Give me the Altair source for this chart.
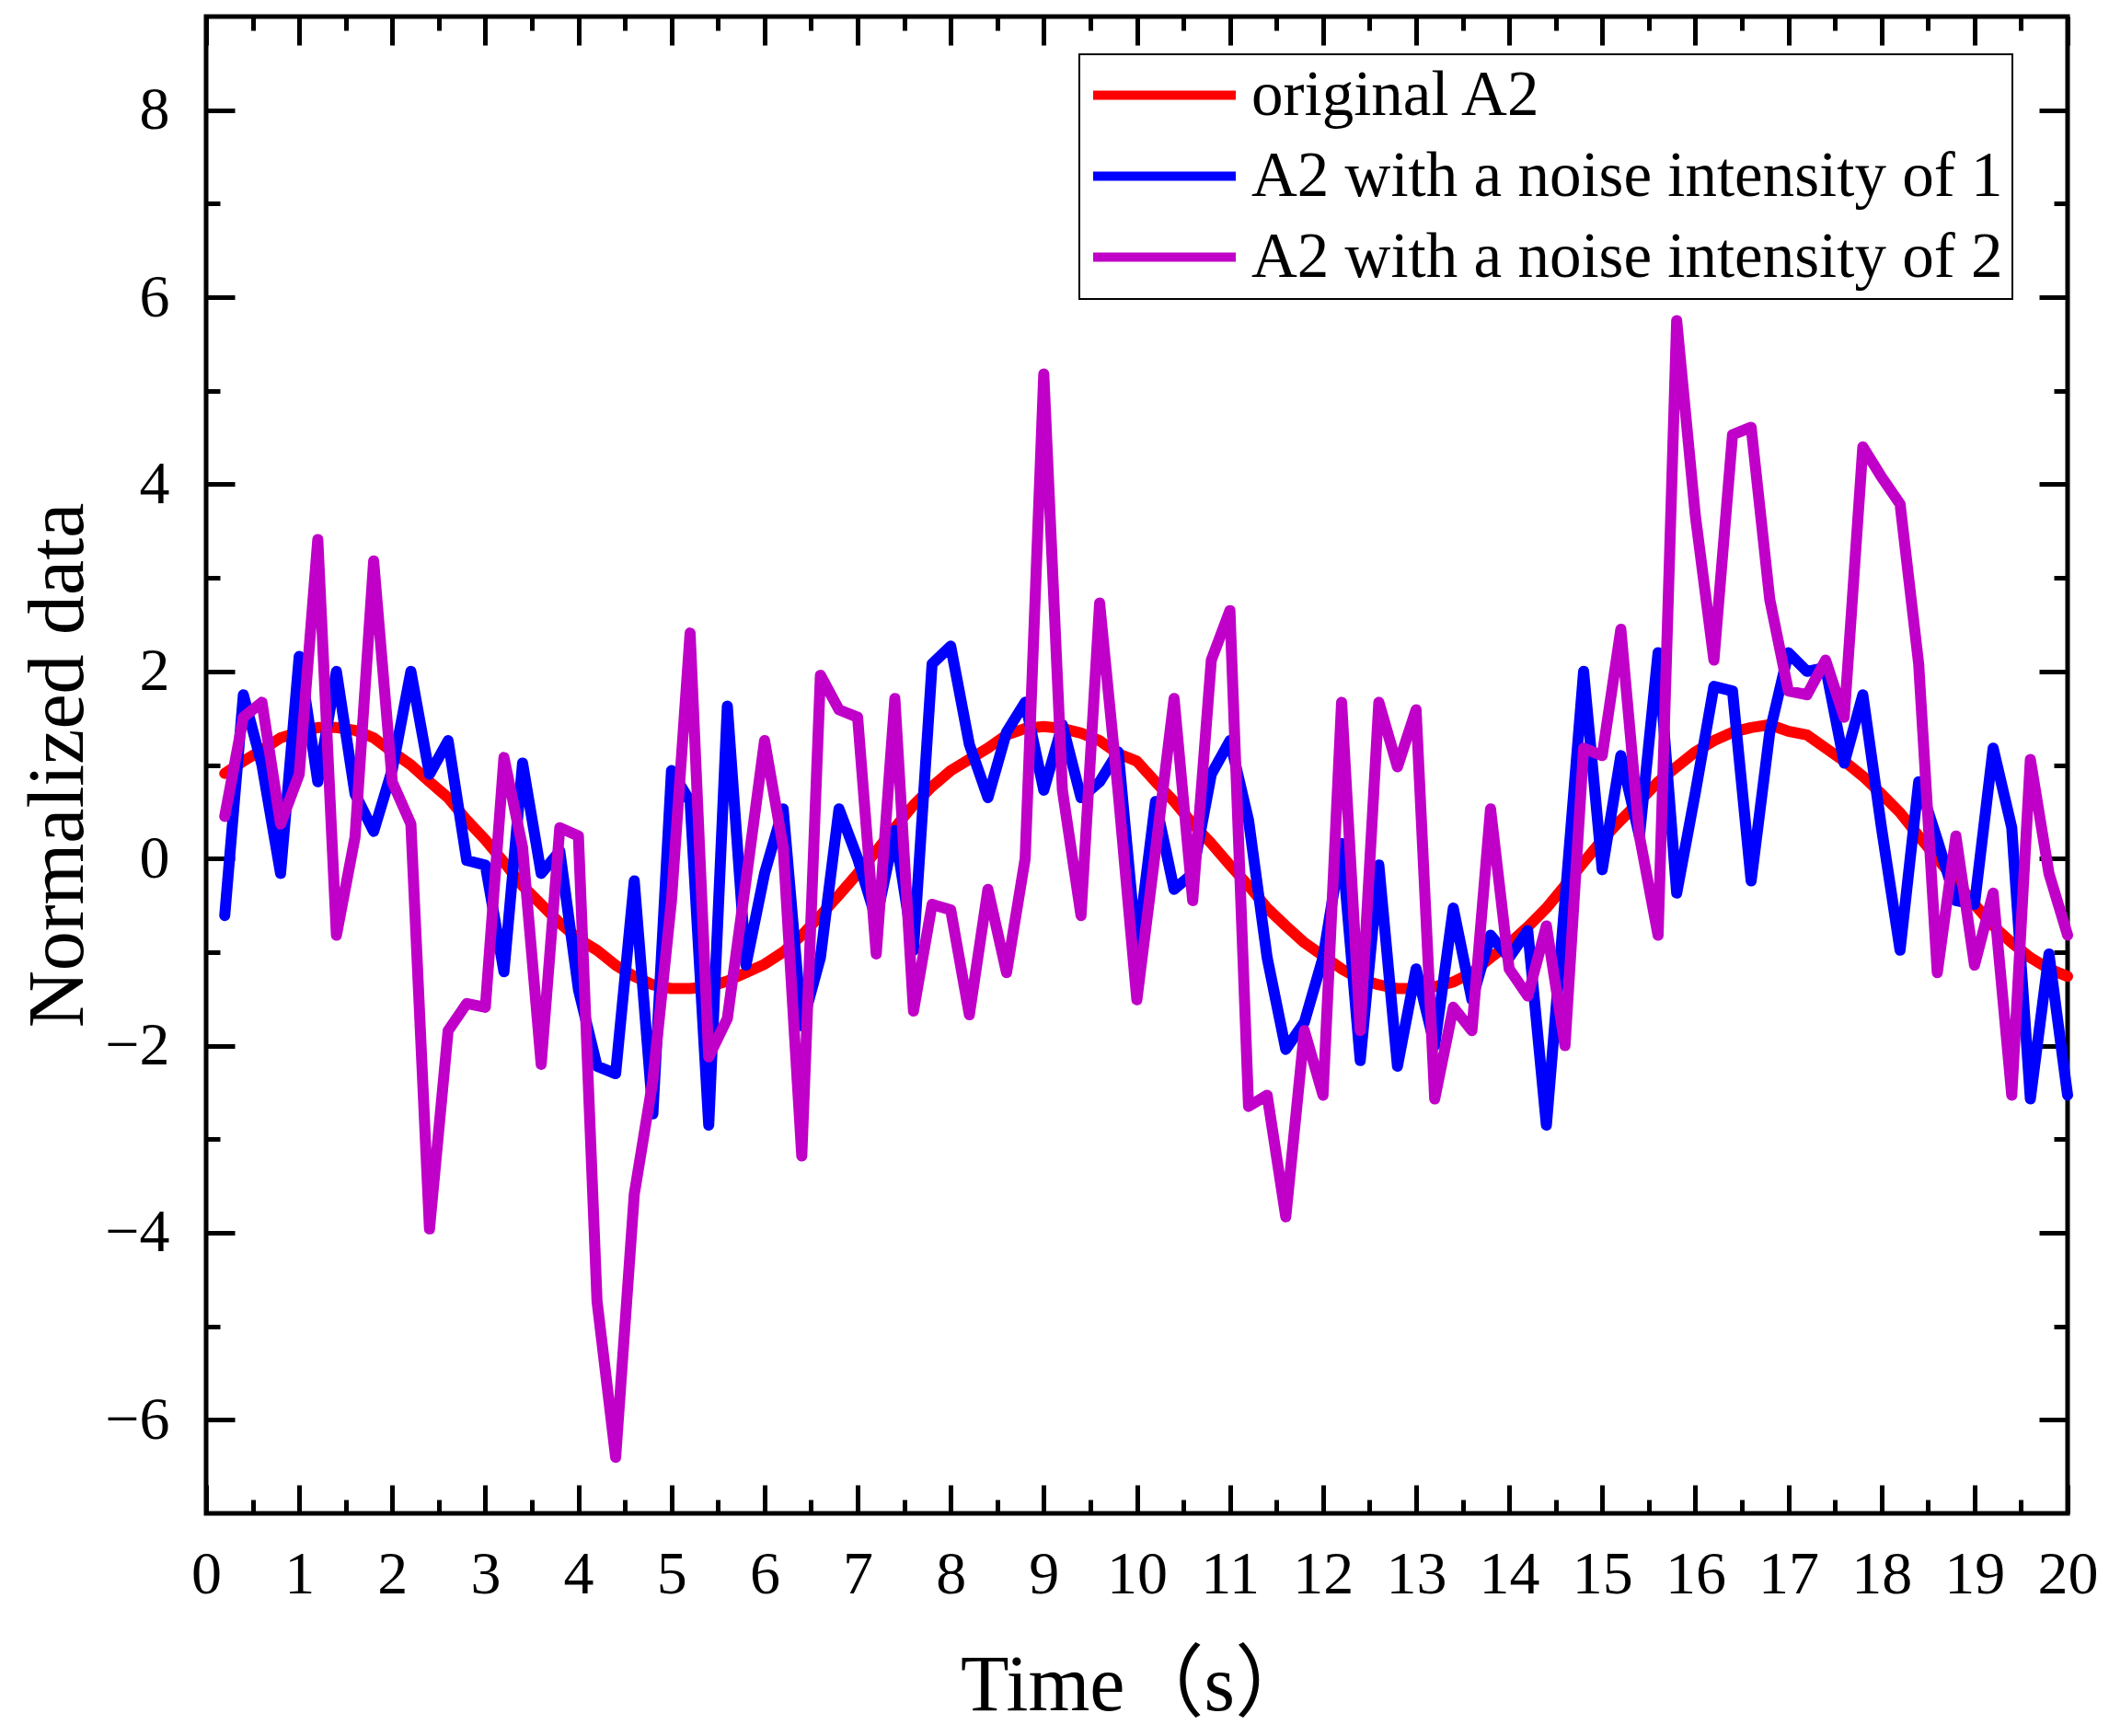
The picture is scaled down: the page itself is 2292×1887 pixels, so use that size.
import pandas as pd
import altair as alt

# sample times (s)
time = [round(0.2 * i, 1) for i in range(1, 101)]

original = [
    0.91, 1.04, 1.16, 1.29, 1.35, 1.40, 1.40, 1.37, 1.29, 1.14,
    1.00, 0.82, 0.65, 0.41, 0.20, -0.04, -0.29, -0.49, -0.69, -0.86,
    -0.98, -1.14, -1.26, -1.35, -1.39, -1.39, -1.37, -1.31, -1.22, -1.13,
    -1.00, -0.82, -0.61, -0.39, -0.16, 0.08, 0.33, 0.57, 0.77, 0.94,
    1.06, 1.18, 1.32, 1.39, 1.41, 1.39, 1.34, 1.26, 1.12, 1.04,
    0.82, 0.61, 0.37, 0.16, -0.07, -0.29, -0.53, -0.72, -0.90, -1.04,
    -1.18, -1.29, -1.35, -1.39, -1.39, -1.37, -1.32, -1.22, -1.06, -0.91,
    -0.73, -0.53, -0.29, -0.04, 0.20, 0.41, 0.61, 0.82, 0.98, 1.14,
    1.26, 1.35, 1.40, 1.43, 1.36, 1.32, 1.18, 1.04, 0.88, 0.69,
    0.49, 0.24, 0.00, -0.24, -0.49, -0.72, -0.90, -1.06, -1.18, -1.26,
]

noise1 = [
    -0.61, 1.75, 1.00, -0.16, 2.16, 0.82, 2.00, 0.69, 0.29, 0.95,
    2.00, 0.90, 1.26, -0.02, -0.07, -1.21, 1.02, -0.16, 0.08, -1.40,
    -2.22, -2.30, -0.24, -2.73, 0.94, 0.61, -2.85, 1.63, -1.14, -0.16,
    0.53, -1.79, -1.06, 0.53, 0.00, -0.65, 0.30, -0.98, 2.08, 2.27,
    1.22, 0.65, 1.35, 1.67, 0.73, 1.43, 0.65, 0.82, 1.14, -1.00,
    0.61, -0.33, -0.16, 0.90, 1.26, 0.41, -1.06, -2.04, -1.75, -1.06,
    0.16, -2.16, -0.07, -2.22, -1.18, -2.00, -0.53, -1.51, -0.82, -1.06,
    -0.77, -2.85, -0.45, 2.00, -0.12, 1.10, 0.24, 2.20, -0.37, 0.70,
    1.84, 1.79, -0.24, 1.35, 2.20, 2.00, 2.04, 1.02, 1.75, 0.33,
    -0.98, 0.82, 0.20, -0.45, -0.49, 1.18, 0.33, -2.57, -1.02, -2.53,
]

noise2 = [
    0.45, 1.51, 1.67, 0.37, 0.90, 3.41, -0.82, 0.23, 3.18, 0.82,
    0.37, -3.96, -1.84, -1.55, -1.59, 1.08, 0.12, -2.20, 0.33, 0.24,
    -4.73, -6.40, -3.59, -2.37, -0.45, 2.41, -2.12, -1.71, -0.24, 1.26,
    0.12, -3.18, 1.96, 1.59, 1.51, -1.02, 1.71, -1.63, -0.49, -0.55,
    -1.67, -0.33, -1.22, 0.00, 5.18, 0.73, -0.61, 2.73, 0.70, -1.51,
    0.08, 1.71, -0.45, 2.12, 2.65, -2.65, -2.53, -3.83, -1.84, -2.53,
    1.67, -1.84, 1.67, 0.98, 1.59, -2.57, -1.59, -1.84, 0.53, -1.18,
    -1.47, -0.72, -2.00, 1.18, 1.10, 2.45, 0.24, -0.82, 5.75, 3.67,
    2.12, 4.53, 4.61, 2.77, 1.79, 1.75, 2.12, 1.51, 4.40, 4.08,
    3.79, 2.08, -1.22, 0.24, -1.14, -0.37, -2.53, 1.06, -0.16, -0.82,
]

series_names = [
    "original A2",
    "A2 with a noise intensity of 1",
    "A2 with a noise intensity of 2",
]
series_colors = ["#ff0000", "#0000ff", "#c000c8"]

x_major = list(range(0, 21))
x_minor = [i + 0.5 for i in range(0, 20)]
y_major = [-6, -4, -2, 0, 2, 4, 6, 8]
y_minor = [-5, -3, -1, 1, 3, 5, 7]

rows = []
for name, vals in zip(series_names, [original, noise1, noise2]):
    for t, v in zip(time, vals):
        rows.append({"time": t, "value": v, "series": name})
df = pd.DataFrame(rows)

FONT = "Liberation Serif"
TITLE_FONT = "Liberation Serif, Noto Sans CJK SC"
W, H = 2023, 1627
MAJOR, MINOR = 31, 15

x_scale = alt.Scale(domain=[0, 20], nice=False, zero=False)
y_scale = alt.Scale(domain=[-7, 9], nice=False, zero=False)


def tick_axis(orient, values, size):
    # inward ticks only: move the axis into the plot by the tick length
    return alt.Axis(
        orient=orient, offset=-size, tickSize=size, tickWidth=5,
        tickColor="black", values=values, labels=False, domain=False,
        grid=False, title=None,
    )


lines = alt.Chart(df).mark_line(
    strokeWidth=12, strokeJoin="round", strokeCap="round"
).encode(
    x=alt.X(
        "time:Q", scale=x_scale,
        axis=alt.Axis(
            orient="bottom", offset=-MAJOR, tickSize=MAJOR, tickWidth=5,
            tickColor="black", values=x_major, domain=False, grid=False,
            labelFont=FONT, labelFontSize=66, labelColor="black",
            labelPadding=34, labelFlush=False, labelOverlap=False,
            title="Time（s）", titleFont=TITLE_FONT, titleFontSize=86,
            titleFontWeight="normal", titleColor="black",
            titleBaseline="alphabetic", titleY=244,
        ),
    ),
    y=alt.Y(
        "value:Q", scale=y_scale,
        axis=alt.Axis(
            orient="left", offset=-MAJOR, tickSize=MAJOR, tickWidth=5,
            tickColor="black", values=y_major, domain=False, grid=False,
            labelFont=FONT, labelFontSize=66, labelColor="black",
            labelPadding=40, labelFlush=False, labelOverlap=False,
            title="Normalized data", titleFont=FONT, titleFontSize=86,
            titleFontWeight="normal", titleColor="black", titleAngle=270,
            titleBaseline="alphabetic", titleX=-166,
        ),
    ),
    color=alt.Color(
        "series:N",
        scale=alt.Scale(domain=series_names, range=series_colors),
        legend=alt.Legend(
            title=None, orient="none", legendX=949, legendY=41,
            symbolType="stroke", symbolSize=24025, symbolStrokeWidth=10,
            labelFont=FONT, labelFontSize=69, labelColor="black",
            labelOffset=12, labelLimit=2000, rowPadding=18, padding=10,
            clipHeight=69, strokeColor="black", fillColor="white",
        ),
    ),
)


def ghost(x_axis, y_axis):
    return alt.Chart(df).mark_point(opacity=0).encode(
        x=alt.X("time:Q", scale=x_scale, axis=x_axis),
        y=alt.Y("value:Q", scale=y_scale, axis=y_axis),
    )


chart = alt.layer(
    lines,
    ghost(tick_axis("bottom", x_minor, MINOR), tick_axis("left", y_minor, MINOR)),
    ghost(tick_axis("top", x_major, MAJOR), tick_axis("right", y_major, MAJOR)),
    ghost(tick_axis("top", x_minor, MINOR), tick_axis("right", y_minor, MINOR)),
).resolve_axis(
    x="independent", y="independent"
).properties(
    width=W,
    height=H,
    autosize=alt.AutoSizeParams(type="none"),
    padding={"left": 216, "top": 10, "right": 36, "bottom": 234},
).configure_view(
    stroke="black", strokeWidth=5
).configure_legend(
    strokeWidth=2
)

chart.save("out.html", embed_options={"renderer": "svg", "actions": False})
